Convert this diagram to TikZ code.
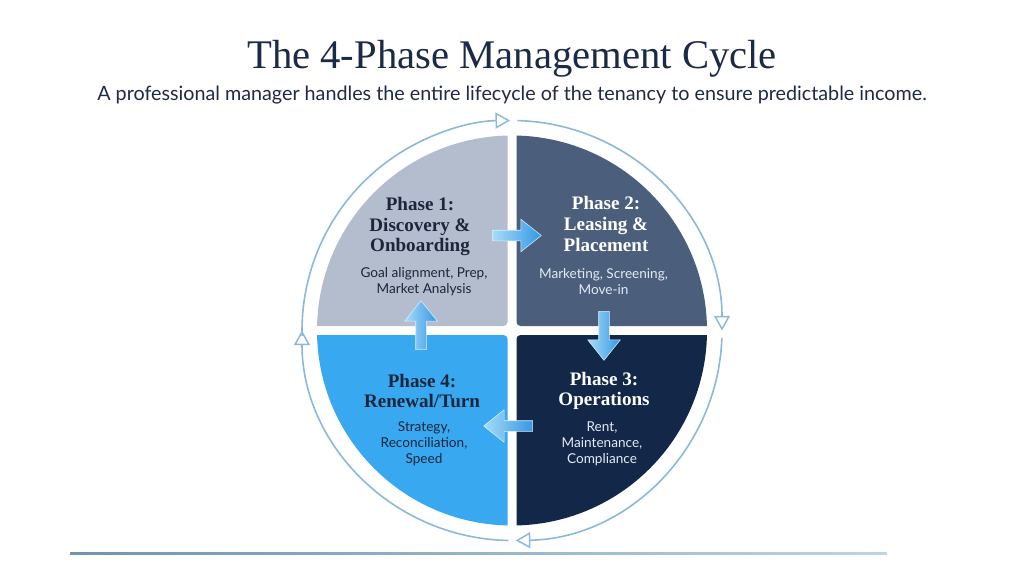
\documentclass[tikz,border=0pt]{standalone}
\usepackage{fontspec}
\setmainfont{Lato}
\newfontfamily\serifx{Liberation Serif}
\usetikzlibrary{arrows.meta,shapes.arrows}
\definecolor{titlec}{HTML}{1B2A47}
\definecolor{subc}{HTML}{1E2B45}
\definecolor{qone}{HTML}{B3BDCE}
\definecolor{qtwo}{HTML}{4B5F7D}
\definecolor{qthree}{HTML}{132749}
\definecolor{qfour}{HTML}{38A8F0}
\definecolor{ringc}{HTML}{8AB9DA}
\definecolor{darkt}{HTML}{1C253B}
\definecolor{lightt}{HTML}{E3EAF2}
\definecolor{arrlight}{HTML}{A6DCF9}
\definecolor{arrdark}{HTML}{3598E4}
\tikzset{
  ringarc/.style={draw=ringc, line width=1.2pt, -{Triangle[open, length=11pt, width=12pt, line width=1.1pt]}},
  headtxt/.style={font=\serifx\bfseries\fontsize{14.3}{15.6}\selectfont, align=center, inner sep=0pt},
  bodytxt/.style={font=\fontsize{10.2}{12}\selectfont, align=center, inner sep=0pt},
  flowarrow/.style={shape=single arrow, inner xsep=0pt, inner ysep=3.75pt, single arrow head extend=8.25pt,
     single arrow tip angle=77, single arrow head indent=0pt, minimum height=36.75pt,
     left color=arrlight, right color=arrdark, draw=white!55!arrlight, line width=0.4pt}
}
\begin{document}
\begin{tikzpicture}[x=0.75pt,y=0.75pt]
\useasboundingbox (0,0) rectangle (1024,576);
\fill[white] (0,0) rectangle (1024,576);
\coordinate (C) at (512,245.5);

% title
\node[font=\serifx\fontsize{30.5}{34}\selectfont, text=titlec, inner sep=0pt] (title) at (512,517) {The 4-Phase Management Cycle};
\node[font=\fontsize{14.8}{17}\selectfont, text=subc, inner sep=0pt] (sub) at (512,481) {A professional manager handles the entire lifecycle of the tenancy to ensure predictable income.};

% quadrants
\begin{scope}
\clip (C) circle[radius=195];
\fill[qone, rounded corners=3pt] (300,250) rectangle (507.5,450);
\fill[qtwo, rounded corners=3pt] (516.5,250) rectangle (724,450);
\fill[qthree, rounded corners=3pt] (516.5,41) rectangle (724,241);
\fill[qfour, rounded corners=3pt] (300,41) rectangle (507.5,241);
\end{scope}

% outer ring
\draw[ringarc] ([shift={(181.5:210)}]C) arc[start angle=181.5, end angle=90.5, radius=210];
\draw[ringarc] ([shift={(88.5:210)}]C) arc[start angle=88.5, end angle=0, radius=210];
\draw[ringarc] ([shift={(-2:210)}]C) arc[start angle=-2, end angle=-89, radius=210];
\draw[ringarc] ([shift={(-91:210)}]C) arc[start angle=-91, end angle=-180, radius=210];

% texts
\node[headtxt, text=darkt] (p1h) at (420,349.5) {Phase 1:\\Discovery \&\\Onboarding};
\node[bodytxt, text=darkt] (p1b) at (424,294) {Goal alignment, Prep,\\Market Analysis};
\node[headtxt, text=white] (p2h) at (606,352) {Phase 2:\\Leasing \&\\Placement};
\node[bodytxt, text=lightt] (p2b) at (603.5,294) {Marketing, Screening,\\Move-in};
\node[headtxt, text=white] (p3h) at (604,185) {Phase 3:\\Operations};
\node[bodytxt, text=lightt] (p3b) at (602,132) {Rent,\\Maintenance,\\Compliance};
\node[headtxt, text=darkt] (p4h) at (422,185) {Phase 4:\\Renewal/Turn};
\node[bodytxt, text=darkt] (p4b) at (424,132) {Strategy,\\Reconciliation,\\Speed};

% flow arrows
\node[flowarrow] (a12) at (513.5,340.5) {};
\node[flowarrow, rotate=-90] (a23) at (604,243.5) {};
\node[flowarrow, rotate=180] (a34) at (511.5,150) {};
\node[flowarrow, rotate=90] (a41) at (421,247.5) {};

% bottom rule
\shade[left color=ringc!80!black, right color=ringc!60!white] (70,22) rectangle (887,24);
\end{tikzpicture}
\end{document}
